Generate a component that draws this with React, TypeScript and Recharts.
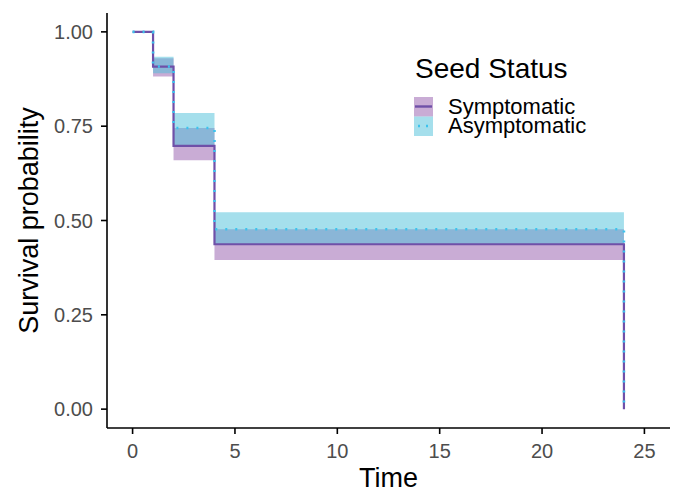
import { Area, ComposedChart, Line, XAxis, YAxis } from "recharts";

// Kaplan-Meier estimates
const times = [0, 1, 2, 4, 24];
const symSurv = [1, 0.908, 0.698, 0.437, 0];
const symLower = [1, 0.882, 0.66, 0.395, 0.395];
const symUpper = [1, 0.93, 0.745, 0.477, 0.477];
const asymSurv = [1, 0.908, 0.745, 0.477, 0];
const asymLower = [1, 0.89, 0.7, 0.437, 0.437];
const asymUpper = [1, 0.934, 0.785, 0.522, 0.522];

const xTicks = [0, 5, 10, 15, 20, 25];
const yTicks = [0, 0.25, 0.5, 0.75, 1];

const groups = ["Symptomatic", "Asymptomatic"];
const LINE_COLORS = ["#6f50a8", "#3cc3ee"];
const BAND_COLORS = ["#935aab", "#4cc0da"];

const FONT = "'Liberation Sans', Arial, sans-serif";

const data = times.map((t, i) => ({
	time: t,
	sym: symSurv[i],
	asym: asymSurv[i],
	symBand: [symLower[i], symUpper[i]],
	asymBand: [asymLower[i], asymUpper[i]],
}));

function SeedLegend() {
	return (
		<svg
			width={200}
			height={92}
			style={{ position: "absolute", left: 410, top: 50, fontFamily: FONT }}
		>
			<text x={5} y={28} fontSize={28} fill="#000">
				Seed Status
			</text>
			{groups.map((name, i) => {
				const top = 47 + i * 19.5;
				return (
					<g key={name}>
						<rect x={4} y={top} width={19} height={19.5} fill={BAND_COLORS[i]} fillOpacity={0.5} />
						<line
							x1={5}
							x2={22}
							y1={top + 9.5}
							y2={top + 9.5}
							stroke={LINE_COLORS[i]}
							strokeWidth={2.4}
							strokeDasharray={i === 1 ? "2 6" : undefined}
							strokeDashoffset={i === 1 ? -3 : 0}
						/>
						<text x={38} y={top + 16.5} fontSize={22} fill="#000">
							{name}
						</text>
					</g>
				);
			})}
		</svg>
	);
}

export default function App() {
	return (
		<div style={{ position: "absolute", left: 0, top: 0, width: 679, height: 493, background: "#fff" }}>
			<ComposedChart width={679} height={493} data={data} margin={{ top: 13, right: 9, left: 0, bottom: 0 }}>
				<XAxis
					dataKey="time"
					type="number"
					domain={[-1.25, 26.25]}
					allowDataOverflow
					ticks={xTicks}
					height={65}
					tickSize={6}
					tickMargin={10}
					tick={{ fontSize: 20, fill: "#4d4d4d", fontFamily: FONT }}
					axisLine={{ stroke: "#000", strokeWidth: 1.6 }}
					tickLine={{ stroke: "#000", strokeWidth: 1.6 }}
					label={() => (
						<text x={388.5} y={487} textAnchor="middle" fontSize={27} fontFamily={FONT} fill="#000">
							Time
						</text>
					)}
				/>
				<YAxis
					type="number"
					domain={[-0.05, 1.05]}
					allowDataOverflow
					ticks={yTicks}
					width={107}
					tickSize={6}
					tickMargin={8}
					tickFormatter={(v) => Number(v).toFixed(2)}
					tick={{ fontSize: 20, fill: "#4d4d4d", fontFamily: FONT }}
					axisLine={{ stroke: "#000", strokeWidth: 1.6 }}
					tickLine={{ stroke: "#000", strokeWidth: 1.6 }}
					label={() => (
						<text
							transform="translate(38,220.5) rotate(-90)"
							textAnchor="middle"
							fontSize={27}
							fontFamily={FONT}
							fill="#000"
						>
							Survival probability
						</text>
					)}
				/>
				<Area
					dataKey="symBand"
					type="stepAfter"
					stroke="none"
					fill={BAND_COLORS[0]}
					fillOpacity={0.5}
					isAnimationActive={false}
				/>
				<Area
					dataKey="asymBand"
					type="stepAfter"
					stroke="none"
					fill={BAND_COLORS[1]}
					fillOpacity={0.5}
					isAnimationActive={false}
				/>
				<Line
					dataKey="sym"
					name={groups[0]}
					type="stepAfter"
					stroke={LINE_COLORS[0]}
					strokeWidth={2.2}
					dot={false}
					isAnimationActive={false}
				/>
				<Line
					dataKey="asym"
					name={groups[1]}
					type="stepAfter"
					stroke={LINE_COLORS[1]}
					strokeWidth={2.6}
					strokeDasharray="2 8"
					dot={false}
					isAnimationActive={false}
				/>
			</ComposedChart>
			<SeedLegend />
		</div>
	);
}
